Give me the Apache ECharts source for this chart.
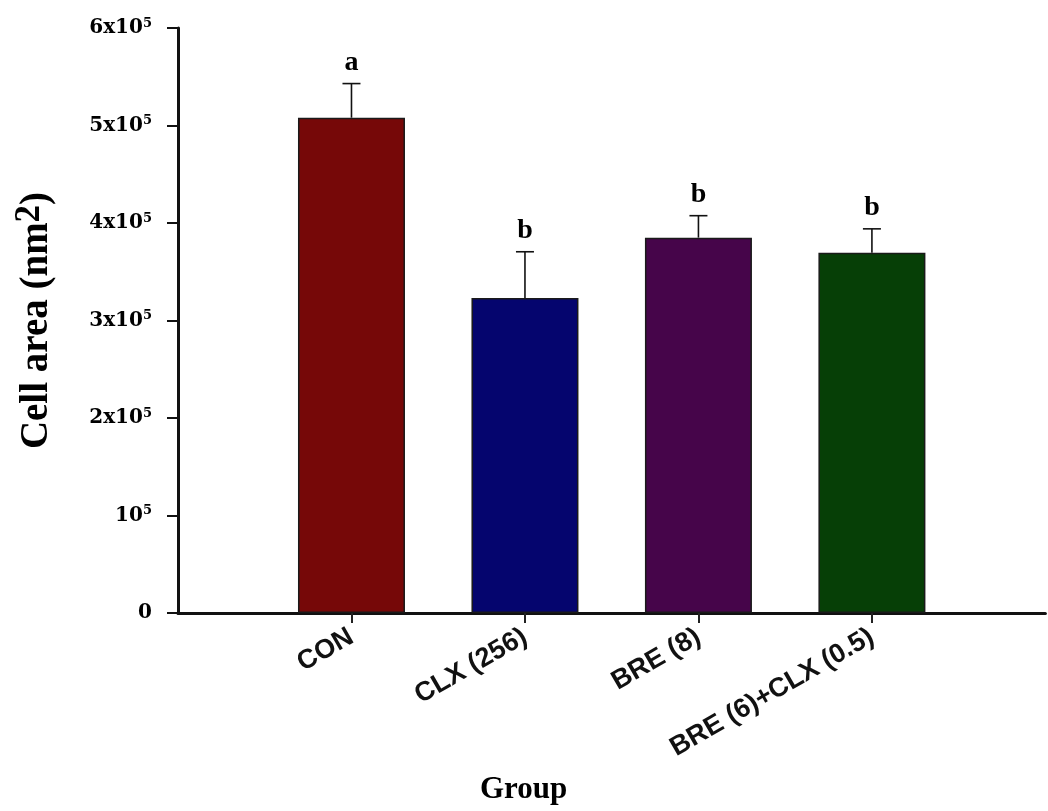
<!DOCTYPE html>
<html>
<head>
<meta charset="utf-8">
<script src="https://cdn.jsdelivr.net/npm/echarts@6/dist/echarts.min.js"></script>
<style>html,body{margin:0;padding:0;background:#fff}#c{width:1048px;height:811px}</style>
</head>
<body>
<div id="c"></div>
<script>
var categories = ['CON', 'CLX (256)', 'BRE (8)', 'BRE (6)+CLX (0.5)'];
var means = [508000, 323000, 385000, 369500];
var errors = [35000, 47500, 22500, 24500];
var letters = ['a', 'b', 'b', 'b'];
var barColors = ['#760808', '#05056e', '#46054a', '#063f06'];
var yTickLabels = ['0', '10^5', '2x10^5', '3x10^5', '4x10^5', '5x10^5', '6x10^5'];
var xTitle = 'Group';
var yTitle = 'Cell area (nm^2)';

var xCats = [''].concat(categories, ['']);
var barData = ['-'].concat(means.map(function (v, i) {
  return { value: v, itemStyle: { color: barColors[i] } };
}), ['-']);
var errData = means.map(function (v, i) { return [i + 1, v, errors[i], letters[i]]; });

function tickRich(s) {
  var p = s.split('^');
  if (p.length < 2) return '{b|' + s + '}';
  return '{b|' + p[0] + '}{s|' + p[1] + '}';
}
var yNameParts = yTitle.split('^');
var yNameRich = '{n|' + yNameParts[0] + '}{sup|' + yNameParts[1].replace(')', '') + '}{n|)}';

var chart = echarts.init(document.getElementById('c'), null, { renderer: 'canvas' });
chart.setOption({
  animation: false,
  backgroundColor: '#fff',
  grid: { left: 178, right: -10, top: 28, bottom: 198, containLabel: false },
  xAxis: {
    type: 'category',
    data: xCats,
    boundaryGap: false,
    axisLine: { lineStyle: { color: '#111', width: 3 } },
    axisTick: {
      length: 10,
      lineStyle: { color: '#222', width: 2 },
      interval: function (idx) { return idx > 0 && idx < xCats.length - 1; }
    },
    axisLabel: {
      interval: 0,
      rotate: 30,
      margin: 22,
      color: '#111',
      fontFamily: 'Liberation Sans',
      fontWeight: 'bold',
      fontSize: 27
    },
    splitLine: { show: false }
  },
  yAxis: {
    type: 'value',
    min: 0,
    max: 600000,
    interval: 100000,
    name: yNameRich,
    nameLocation: 'middle',
    nameRotate: 90,
    nameGap: 116,
    nameTextStyle: {
      rich: {
        n: { fontFamily: 'Liberation Serif', fontWeight: 'bold', fontSize: 39, color: '#000' },
        sup: { fontFamily: 'Liberation Serif', fontWeight: 'bold', fontSize: 35, color: '#000', verticalAlign: 'bottom', padding: [0, 0, 15, 0] }
      }
    },
    axisLine: { show: true, lineStyle: { color: '#111', width: 3 } },
    axisTick: { show: true, length: 11, lineStyle: { color: '#111', width: 2 } },
    splitLine: { show: false },
    axisLabel: {
      margin: 26,
      formatter: function (v) {
        var idx = Math.round(v / 100000);
        return tickRich(yTickLabels[idx]);
      },
      rich: {
        b: { fontFamily: 'DejaVu Serif', fontWeight: 'bold', fontSize: 20, color: '#000' },
        s: { fontFamily: 'DejaVu Serif', fontWeight: 'bold', fontSize: 13, color: '#000', verticalAlign: 'bottom', padding: [0, 0, 9, 0] }
      }
    }
  },
  series: [
    {
      type: 'bar',
      data: barData,
      barWidth: 107,
      itemStyle: { borderColor: '#1a1a1a', borderWidth: 1.5 },
      z: 2
    },
    {
      type: 'custom',
      data: errData,
      z: 3,
      renderItem: function (params, api) {
        var x = api.value(0), v = api.value(1), e = api.value(2);
        var letter = letters[params.dataIndex];
        var top = api.coord([x, v]);
        var cap = api.coord([x, v + e]);
        var hw = 9;
        return {
          type: 'group',
          children: [
            { type: 'line', shape: { x1: top[0], y1: top[1], x2: cap[0], y2: cap[1] }, style: { stroke: '#111', lineWidth: 1.6 } },
            { type: 'line', shape: { x1: cap[0] - hw, y1: cap[1], x2: cap[0] + hw, y2: cap[1] }, style: { stroke: '#111', lineWidth: 1.6 } },
            { type: 'text', x: cap[0], y: cap[1] - 7, style: { text: letter, font: 'bold 28px "Liberation Serif"', fill: '#000', align: 'center', verticalAlign: 'bottom' } }
          ]
        };
      }
    }
  ],
  graphic: [
    { type: 'text', left: 480, top: 774, style: { text: xTitle, font: 'bold 31px "Liberation Serif"', fill: '#000' } }
  ]
});
</script>
</body>
</html>
